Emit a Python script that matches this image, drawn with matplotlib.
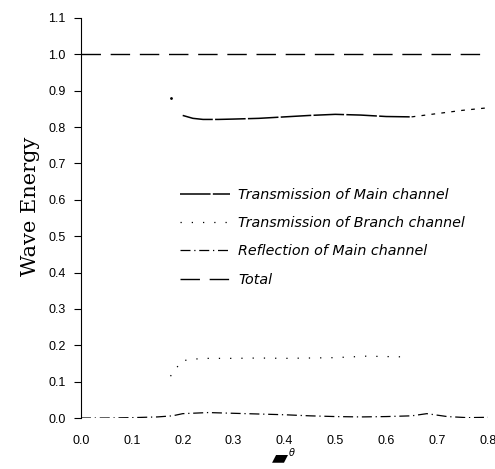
import matplotlib
matplotlib.use("Agg")
import matplotlib.pyplot as plt
import numpy as np

# ------------------------------------------------------------------ #
# Data
# ------------------------------------------------------------------ #
total_x = [0.0, 0.1, 0.2, 0.3, 0.4, 0.5, 0.6, 0.7, 0.8]
total_y = [1.0, 1.0, 1.0, 1.0, 1.0, 1.0, 1.0, 1.0, 1.0]

main_x = [0.20, 0.22, 0.24, 0.27, 0.30, 0.35, 0.40, 0.45, 0.50, 0.55,
          0.60, 0.65, 0.70, 0.75, 0.80]
main_y = [0.832, 0.824, 0.821, 0.821, 0.822, 0.824, 0.828, 0.832, 0.835,
          0.833, 0.829, 0.828, 0.837, 0.846, 0.853]
main_start_x = [0.177]
main_start_y = [0.880]

branch_x = [0.176, 0.198, 0.22, 0.25, 0.30, 0.35, 0.40, 0.45, 0.50, 0.56, 0.64]
branch_y = [0.115, 0.157, 0.162, 0.164, 0.164, 0.165, 0.164, 0.165, 0.166, 0.170, 0.168]

refl_x = [0.0, 0.05, 0.10, 0.15, 0.18, 0.20, 0.25, 0.30, 0.35, 0.40,
          0.45, 0.50, 0.55, 0.60, 0.65, 0.68, 0.72, 0.76, 0.80]
refl_y = [0.0, 0.0, 0.001, 0.003, 0.006, 0.012, 0.015, 0.013, 0.011, 0.009,
          0.006, 0.004, 0.003, 0.004, 0.006, 0.012, 0.004, 0.001, 0.002]

xticks = [0.0, 0.1, 0.2, 0.3, 0.4, 0.5, 0.6, 0.7, 0.8]
yticks = [0.0, 0.1, 0.2, 0.3, 0.4, 0.5, 0.6, 0.7, 0.8, 0.9, 1.0, 1.1]

# ------------------------------------------------------------------ #
# Plot
# ------------------------------------------------------------------ #
fig = plt.figure(figsize=(4.95, 4.69), dpi=100)
ax = fig.add_axes([0.1636, 0.1087, 0.822, 0.853])

mx, my = np.array(main_x), np.array(main_y)
head = mx <= 0.65
tail = mx >= 0.65
ax.plot(mx[head], my[head], color="black", lw=1.1, ls=(0, (20, 1.5)),
        label="Transmission of Main channel")
ax.plot(mx[tail], my[tail], color="black", lw=0.9, ls=(0, (3, 5)))
ax.plot(main_start_x, main_start_y, ".", color="black", ms=2)

ax.plot(branch_x, branch_y, color="black", lw=0.9, ls=(0, (1, 8)),
        label="Transmission of Branch channel")
ax.plot(refl_x, refl_y, color="black", lw=0.9, ls=(0, (8, 3, 1, 3)),
        label="Reflection of Main channel")
ax.plot(total_x, total_y, color="black", lw=1.0, ls=(0, (14, 7)),
        label="Total")

ax.set_xlim(0.0, 0.8)
ax.set_ylim(0.0, 1.1)
ax.set_xticks(xticks)
ax.set_yticks(yticks)
ax.set_xticklabels([f"{v:.1f}" for v in xticks], fontsize=9,
                   family="Liberation Sans")
ax.set_yticklabels([f"{v:.1f}" for v in yticks], fontsize=9,
                   family="Liberation Sans")
ax.tick_params(axis="x", length=0, pad=12)
ax.tick_params(axis="y", direction="out", length=5, width=0.8, pad=6)

for s in ("top", "right", "bottom"):
    ax.spines[s].set_visible(False)
ax.spines["left"].set_linewidth(0.8)

ax.set_ylabel("Wave Energy", fontsize=15, family="DejaVu Serif")
ax.yaxis.set_label_coords(-0.10, 0.53)

# x-axis symbol (scanned glyph in the original)
fig.text(0.566, 0.004, "\u25b0", fontsize=15, ha="center", va="bottom")
fig.text(0.589, 0.036, "$\\theta$", fontsize=7, ha="center", va="center")

leg = ax.legend(loc="upper left", bbox_to_anchor=(0.2295, 0.59), frameon=False,
                handlelength=3.5, handletextpad=0.56, labelspacing=1.0,
                borderaxespad=0.0,
                prop={"family": "DejaVu Sans", "style": "italic",
                      "size": 10.3})

fig.savefig("out.png", dpi=100)
